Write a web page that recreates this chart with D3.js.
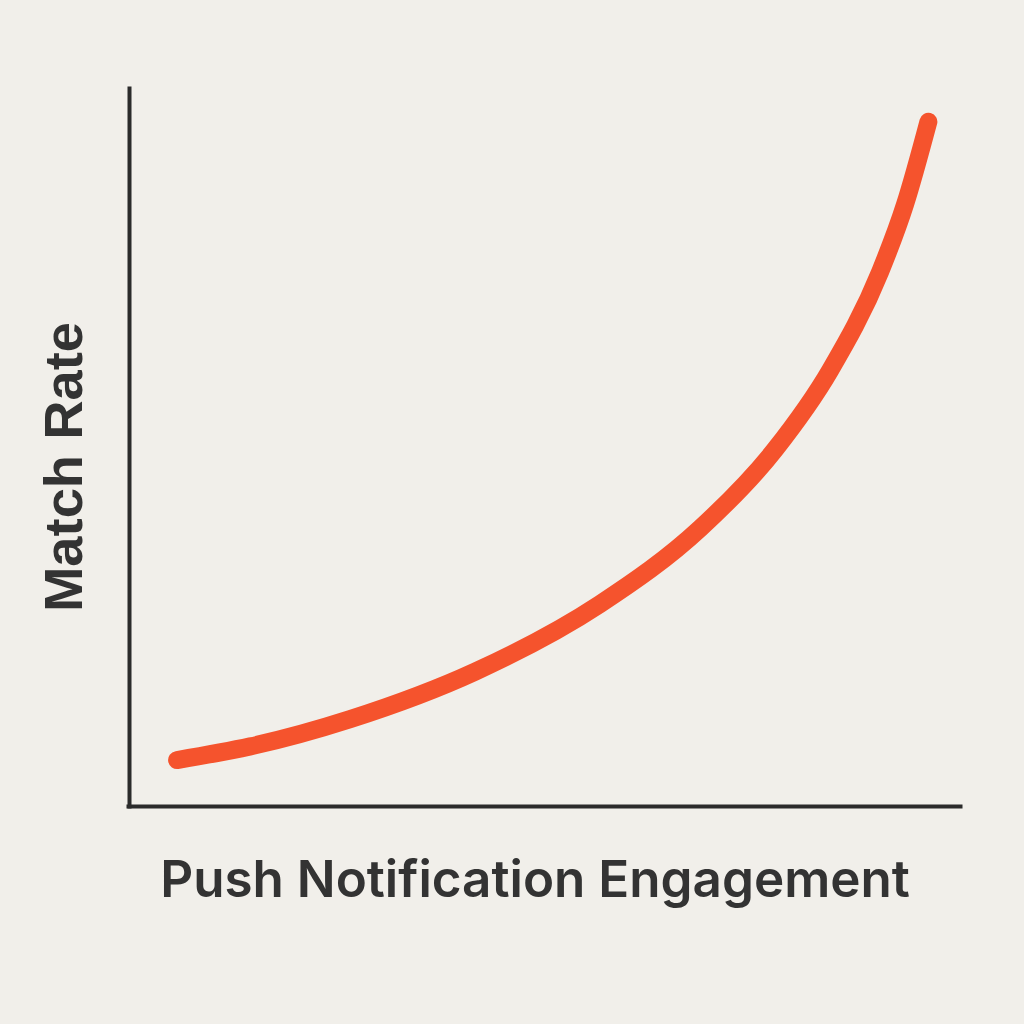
<!DOCTYPE html>
<html>
<head>
<meta charset="utf-8">
<script src="https://cdn.jsdelivr.net/npm/d3@7"></script>
<style>
  html, body { margin: 0; padding: 0; background: #f1efea; }
  svg { display: block; }
</style>
</head>
<body>
<svg id="chart" width="1024" height="1024"></svg>
<script>
// Data (domain units 0-100 on both axes; no tick labels in the original)
const engagement = [5.9, 14.7, 26.7, 41.7, 56.7, 68.8, 77.8, 84.4, 90.4, 93.4, 96.2];
const matchRate  = [6.4, 8.3, 12.1, 18.7, 28.1, 38.7, 49.7, 60.7, 74.4, 83.8, 95.3];
const xTitle = "Push Notification Engagement";
const yTitle = "Match Rate";

const svg = d3.select("#chart");
svg.append("rect").attr("width", 1024).attr("height", 1024).attr("fill", "#f1efea");

const x = d3.scaleLinear().domain([0, 100]).range([128, 960]);
const y = d3.scaleLinear().domain([0, 100]).range([806, 88]);

// Axes (no ticks)
const xAxis = svg.append("g").attr("transform", `translate(0,${y(0)})`)
  .call(d3.axisBottom(x).ticks(0).tickSizeOuter(0));
const yAxis = svg.append("g").attr("transform", `translate(${x(0) + 1},0)`)
  .call(d3.axisLeft(y).ticks(0).tickSizeOuter(0));
[xAxis, yAxis].forEach(g => g.select(".domain")
  .attr("stroke", "#2b2b2b").attr("stroke-width", 4).attr("stroke-linecap", "square"));

// Curve
const pts = engagement.map((v, i) => [v, matchRate[i]]);
const line = d3.line().x(d => x(d[0])).y(d => y(d[1])).curve(d3.curveMonotoneX);
svg.append("path")
  .attr("d", line(pts))
  .attr("fill", "none")
  .attr("stroke", "#f5532d")
  .attr("stroke-width", 18)
  .attr("stroke-linecap", "round")
  .attr("stroke-linejoin", "round");

// X title
const xt = svg.append("text")
  .attr("x", 535).attr("y", 897)
  .attr("text-anchor", "middle")
  .attr("font-family", "Inter, 'Noto Sans', sans-serif")
  .attr("font-weight", 600)
  .attr("font-size", 46)
  .attr("fill", "#333333")
  .text(xTitle);
const xw = xt.node().getComputedTextLength();
xt.attr("font-size", 46 * 750 / xw);

// Y title
const yt = svg.append("text")
  .attr("transform", "translate(82,467) rotate(-90)")
  .attr("text-anchor", "middle")
  .attr("font-family", "'Liberation Sans', Arial, sans-serif")
  .attr("font-weight", 700)
  .attr("font-size", 54)
  .attr("fill", "#333333")
  .text(yTitle);
const yw = yt.node().getComputedTextLength();
yt.attr("font-size", 54 * 290 / yw);
</script>
</body>
</html>
